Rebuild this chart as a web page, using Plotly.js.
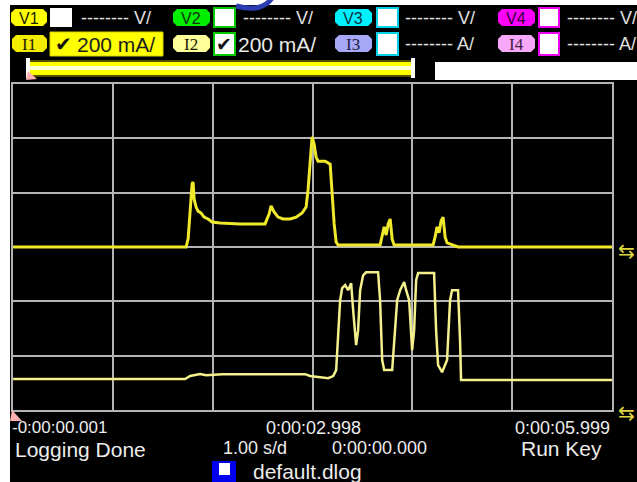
<!DOCTYPE html>
<html>
<head>
<meta charset="utf-8">
<script src="https://cdn.plot.ly/plotly-3.0.1.min.js"></script>
<style>html,body{margin:0;padding:0;background:#fff;}#chart{width:637px;height:482px;}</style>
</head>
<body>
<div id="chart"></div>
<script>
// ---- Data (time in s, current in mA) ----
const i1Time = [0, 1.733, 1.753, 1.773, 1.793, 1.803, 1.813, 1.833, 1.853, 1.883, 1.913, 1.953, 1.993, 2.074, 2.274, 2.524, 2.564, 2.584, 2.614, 2.654, 2.704, 2.775, 2.835, 2.895, 2.935, 2.955, 2.975, 2.995, 3.015, 3.035, 3.055, 3.126, 3.176, 3.196, 3.216, 3.236, 3.256, 3.676, 3.697, 3.717, 3.737, 3.757, 3.777, 3.797, 3.817, 4.207, 4.227, 4.247, 4.267, 4.287, 4.307, 4.327, 4.347, 4.397, 4.457, 5.999];
const i1Current = [0, 0, 29, 121, 232, 239, 177, 147, 132, 125, 110, 103, 92, 88, 85, 85, 121, 151, 129, 110, 103, 103, 110, 125, 147, 213, 305, 405, 379, 331, 316, 316, 305, 195, 85, 18, 7, 7, 37, 74, 44, 85, 103, 29, 7, 7, 37, 74, 52, 96, 110, 37, 15, 7, 0, 0];
const i2Time = [0, 1.723, 1.773, 1.873, 1.933, 2.094, 2.925, 2.975, 3.156, 3.206, 3.236, 3.256, 3.276, 3.296, 3.326, 3.356, 3.386, 3.406, 3.436, 3.456, 3.476, 3.506, 3.536, 3.656, 3.676, 3.697, 3.717, 3.797, 3.817, 3.847, 3.877, 3.917, 3.937, 3.967, 3.997, 4.017, 4.037, 4.057, 4.217, 4.237, 4.257, 4.297, 4.347, 4.377, 4.397, 4.457, 4.477, 4.487, 5.999];
const i2Current = [4, 4, 15, 22, 18, 22, 22, 15, 7, 15, 37, 147, 294, 339, 350, 331, 357, 258, 129, 184, 331, 386, 397, 397, 294, 74, 37, 37, 147, 294, 331, 361, 331, 294, 110, 184, 368, 394, 394, 184, 55, 29, 74, 294, 331, 331, 147, 0, 0];

const timeRange = [-0.001, 5.999];
const i1Range = [-600, 600];
const i2Range = [-110, 1090];
const bottomLabels = ["-0:00:00.001", "0:00:02.998", "0:00:05.999"];

// ---- Pixel helpers for decorations ----
const L = 13, R = 612, T = 84, B = 410;
const X = p => (p - L) / (R - L);
const Y = p => (B - p) / (B - T);
function rect(x0, y0, x1, y1, fill, lineColor, lw) {
  return {type: 'rect', xref: 'paper', yref: 'paper', x0: X(x0), x1: X(x1), y0: Y(y1), y1: Y(y0),
    fillcolor: fill, line: {color: lineColor || fill, width: lw || 0}, layer: 'above'};
}
function poly(pts, fill) {
  const d = 'M ' + pts.map(p => X(p[0]).toFixed(5) + ',' + Y(p[1]).toFixed(5)).join(' L ') + ' Z';
  return {type: 'path', xref: 'paper', yref: 'paper', path: d, fillcolor: fill, line: {width: 0}, layer: 'above'};
}
function badge(x0, y0, x1, y1, fill) {
  const c = 4;
  return poly([[x0 + c, y0], [x1 - c, y0], [x1, y0 + c], [x1, y1 - c], [x1 - c, y1], [x0 + c, y1], [x0, y1 - c], [x0, y0 + c]], fill);
}
function txt(s, x, y, size, color, anchor, family) {
  return {text: s, xref: 'paper', yref: 'paper', x: X(x), y: Y(y), xanchor: anchor || 'left', yanchor: 'middle',
    showarrow: false, borderpad: 0, font: {family: family || 'Liberation Sans, Arial, sans-serif', size: size, color: color}};
}

const shapes = [
  // white frame (left & top strip)
  rect(0, 0, 10, 482, '#ffffff'),
  rect(0, 0, 637, 5, '#ffffff'),
  // Row 1 badges / boxes
  badge(11, 9, 47, 26, '#ffff00'), rect(50, 8, 72, 27, '#ffffff'),
  badge(173, 9, 210, 26, '#00ee00'), rect(214, 8, 235, 27, '#ffffff', '#00c800', 2),
  badge(335, 9, 372, 26, '#00f0ff'), rect(377, 8, 398, 27, '#ffffff', '#00d0e8', 2),
  badge(498, 9, 535, 26, '#ff00ff'), rect(539, 8, 559, 27, '#ffffff', '#ee00ee', 2),
  // Row 2 badges / boxes
  badge(12, 35, 47, 52, '#f2ec00'), rect(50, 32, 163, 56, '#ffff00', '#d8d000', 1),
  badge(173, 35, 210, 52, '#ffff9a'), rect(214, 33, 235, 55, '#ffffff', '#00c800', 2),
  badge(335, 35, 372, 52, '#a8a8f8'), rect(377, 33, 398, 55, '#ffffff', '#00d0e8', 2),
  badge(498, 35, 535, 52, '#f8a8f8'), rect(539, 33, 559, 55, '#ffffff', '#ee00ee', 2),
  // Time bar
  rect(27, 60, 414, 77, '#505000'),
  rect(27, 62, 414, 75, '#ffff00'),
  rect(27, 66, 414, 70, '#ffffd8'),
  rect(26, 58, 30, 78, '#ffffff'),
  rect(411, 58, 415, 78, '#ffffff'),
  poly([[28, 71], [37, 79], [26, 80]], '#ffb0b0'),
  rect(435, 62, 637, 80, '#ffffff'),
  // trigger marker bottom-left
  poly([[12, 410], [22, 421], [10, 421]], '#ffb0b0'),
  // file icon
  rect(212, 461, 236, 482, '#0000ee'),
  rect(219, 463, 230, 475, '#ffffff'),
  // blue title remnant
  {type: 'path', xref: 'paper', yref: 'paper', layer: 'above',
   path: 'M ' + X(272) + ',' + Y(-2) + ' Q ' + X(262) + ',' + Y(13) + ' ' + X(236) + ',' + Y(6),
   line: {color: '#2a3cb0', width: 5}}
];

const dash = '-------- ';
const annotations = [
  txt('V1', 29, 18, 16, '#202000', 'center'),
  txt(dash + 'V/', 80, 18, 18, '#e0e0e0'),
  txt('V2', 191, 18, 16, '#103010', 'center'),
  txt(dash + 'V/', 242, 18, 18, '#e0e0e0'),
  txt('V3', 353, 18, 16, '#103040', 'center'),
  txt(dash + 'V/', 404, 18, 18, '#e0e0e0'),
  txt('V4', 516, 18, 16, '#300030', 'center'),
  txt(dash + 'V/', 566, 18, 18, '#e0e0e0'),
  txt('I1', 29, 44, 17, '#202000', 'center', 'Liberation Serif, serif'),
  txt('✔', 63, 44, 20, '#101010', 'center', 'DejaVu Sans'),
  txt('200 mA/', 76, 44, 21, '#202020'),
  txt('I2', 191, 44, 17, '#202000', 'center', 'Liberation Serif, serif'),
  txt('✔', 224, 44, 19, '#101010', 'center', 'DejaVu Sans'),
  txt('200 mA/', 237, 44, 21, '#e8e8e8'),
  txt('I3', 353, 44, 17, '#202040', 'center', 'Liberation Serif, serif'),
  txt(dash + 'A/', 404, 44, 18, '#e0e0e0'),
  txt('I4', 516, 44, 17, '#402040', 'center', 'Liberation Serif, serif'),
  txt(dash + 'A/', 566, 44, 18, '#e0e0e0'),
  // bottom
  txt(bottomLabels[0], 11, 428, 17, '#ececec'),
  txt(bottomLabels[1], 313, 428, 18, '#ececec', 'center'),
  txt(bottomLabels[2], 611, 428, 18, '#ececec', 'right'),
  txt('Logging Done', 14, 449, 21, '#ececec'),
  txt('1.00 s/d', 222, 448, 18, '#ececec'),
  txt('0:00:00.000', 331, 448, 18, '#ececec'),
  txt('Run Key', 603, 448, 21, '#ececec', 'right'),
  txt('default.dlog', 252, 471, 21, '#ececec'),
  // offset markers
  txt('⇆', 626, 251, 20, '#e0d840', 'center', 'DejaVu Sans'),
  txt('⇆', 626, 413, 20, '#e0d840', 'center', 'DejaVu Sans')
];

const traces = [
  {x: i1Time, y: i1Current, type: 'scatter', mode: 'lines', name: 'I1',
   line: {color: '#f0e82a', width: 3}, yaxis: 'y'},
  {x: i2Time, y: i2Current, type: 'scatter', mode: 'lines', name: 'I2',
   line: {color: '#f4f08c', width: 2.5}, yaxis: 'y2'}
];

const gridColor = '#b4b4b4';
const layout = {
  width: 637, height: 482,
  margin: {l: L, r: 637 - R, t: T, b: 482 - B, pad: 0},
  paper_bgcolor: '#000000', plot_bgcolor: '#000000',
  showlegend: false,
  xaxis: {range: timeRange, tick0: -0.001, dtick: 1, showgrid: true, gridcolor: gridColor, gridwidth: 2,
          showticklabels: false, ticks: '', zeroline: false, showline: true, mirror: true,
          linecolor: gridColor, linewidth: 2, fixedrange: true},
  yaxis: {range: i1Range, tick0: -600, dtick: 200, showgrid: true, gridcolor: gridColor, gridwidth: 2,
          showticklabels: false, ticks: '', zeroline: false, showline: true, mirror: true,
          linecolor: gridColor, linewidth: 2, fixedrange: true},
  yaxis2: {range: i2Range, overlaying: 'y', visible: false, showgrid: false, zeroline: false, fixedrange: true},
  shapes: shapes,
  annotations: annotations
};

Plotly.newPlot('chart', traces, layout, {staticPlot: true, displayModeBar: false});
</script>
</body>
</html>
